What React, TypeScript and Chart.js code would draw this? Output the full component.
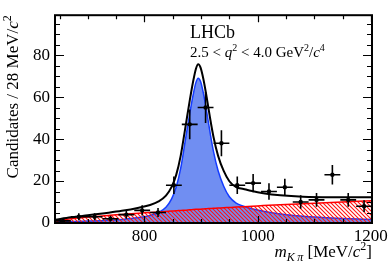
import { useEffect, useRef } from "react";
import { Chart, registerables } from "chart.js";

Chart.register(...registerables);

// ---- data ----
const BIN_CENTERS = [656, 684, 712, 740, 768, 796, 824, 852, 880, 908, 936, 964, 992, 1020, 1048, 1076, 1104, 1132, 1160, 1188];
const COUNTS = [1, 3, 3, 2, 4, 6, 5, 18, 47, 55, 38, 18, 19, 15, 17, 10, 11, 23, 11, 8];
const ERRORS = [1, 1.7, 1.7, 1.4, 2, 2.4, 2.2, 4.2, 7.1, 7.4, 6.2, 4.2, 4.4, 3.9, 4.1, 3.2, 3.3, 4.6, 3.3, 2.8];
const BIN_HALF_WIDTH = 14;

const CURVE_X = [642, 670, 700, 730, 760, 790, 810, 825, 838, 848, 856, 864, 872, 880, 886, 891, 895, 899, 904, 910, 916, 922, 930, 940, 950, 962, 975, 990, 1010, 1040, 1080, 1130, 1202];
const SIGNAL = [0.5, 0.7, 0.9, 1.2, 1.7, 2.6, 3.6, 5, 7.5, 11.5, 17, 26, 39, 52, 61, 67, 69, 67.5, 62, 53, 43, 34, 25, 17.5, 12.5, 9.5, 8, 6.8, 5.6, 4.3, 3.2, 2.4, 1.7];
const BACKGROUND = [1.0, 2.0, 2.8, 3.5, 4.1, 4.7, 5.0, 5.3, 5.5, 5.7, 5.8, 6.0, 6.1, 6.3, 6.4, 6.5, 6.6, 6.6, 6.7, 6.8, 6.9, 7.0, 7.1, 7.3, 7.4, 7.6, 7.8, 8.0, 8.3, 8.7, 9.2, 9.8, 10.6];
const TOTAL = [1.5, 2.7, 3.7, 4.7, 5.8, 7.3, 8.6, 10.3, 13, 17.2, 22.8, 32, 45, 58.3, 67.4, 73.5, 75.6, 74.1, 68.7, 59.8, 49.9, 41, 32.1, 24.8, 19.9, 17.1, 16.2, 15.2, 14.2, 13.2, 12.5, 12.3, 12.3];

const X_MIN = 642;
const X_MAX = 1202;
const Y_MIN = 0;
const Y_MAX = 99;
const X_TICKS = [800, 1000, 1200];
const X_MINOR_TICKS = [650, 700, 750, 850, 900, 950, 1050, 1100, 1150];
const Y_TICKS = [0, 20, 40, 60, 80];
const Y_MINOR_TICKS = [5, 10, 15, 25, 30, 35, 45, 50, 55, 65, 70, 75, 85, 90, 95];

const FAMILY = '"Liberation Serif", "Times New Roman", serif';

type Seg = { t: string; it?: boolean; sup?: boolean; sub?: boolean };

function drawRich(ctx: CanvasRenderingContext2D, segs: Seg[], x: number, y: number, size: number, align: "left" | "right") {
  const font = (s: Seg) => `${s.it ? "italic " : ""}${s.sup || s.sub ? Math.round(size * 0.68) : size}px ${FAMILY}`;
  let total = 0;
  for (const s of segs) {
    ctx.font = font(s);
    total += ctx.measureText(s.t).width;
  }
  let cx = align === "right" ? x - total : x;
  ctx.textAlign = "left";
  ctx.textBaseline = "alphabetic";
  for (const s of segs) {
    ctx.font = font(s);
    const dy = s.sup ? -size * 0.4 : s.sub ? size * 0.22 : 0;
    ctx.fillText(s.t, cx, y + dy);
    cx += ctx.measureText(s.t).width;
  }
}

function makeHatch(): CanvasPattern | string {
  const c = document.createElement("canvas");
  c.width = 4;
  c.height = 4;
  const g = c.getContext("2d");
  if (!g) return "rgba(255,0,0,0.4)";
  g.strokeStyle = "rgb(255,20,20)";
  g.lineWidth = 1.1;
  g.beginPath();
  g.moveTo(-1, -1);
  g.lineTo(5, 5);
  g.moveTo(-1, 3);
  g.lineTo(1, 5);
  g.moveTo(3, -1);
  g.lineTo(5, 1);
  g.stroke();
  const p = document.createElement("canvas").getContext("2d")!.createPattern(c, "repeat");
  return p || "rgba(255,0,0,0.4)";
}

const decorPlugin = {
  id: "decor",
  afterDatasetsDraw(chart: any) {
    const ctx: CanvasRenderingContext2D = chart.ctx;
    const xs = chart.scales.x;
    const ys = chart.scales.y;
    ctx.save();
    ctx.strokeStyle = "#000";
    ctx.lineWidth = 1.6;
    ctx.beginPath();
    BIN_CENTERS.forEach((c, i) => {
      const px = xs.getPixelForValue(c);
      const py = ys.getPixelForValue(COUNTS[i]);
      const x0 = xs.getPixelForValue(c - BIN_HALF_WIDTH);
      const x1 = xs.getPixelForValue(c + BIN_HALF_WIDTH);
      const y0 = ys.getPixelForValue(Math.max(0, COUNTS[i] - ERRORS[i]));
      const y1 = ys.getPixelForValue(COUNTS[i] + ERRORS[i]);
      ctx.moveTo(x0, py);
      ctx.lineTo(x1, py);
      ctx.moveTo(px, y0);
      ctx.lineTo(px, y1);
    });
    ctx.stroke();
    ctx.restore();
  },
  afterDraw(chart: any) {
    const ctx: CanvasRenderingContext2D = chart.ctx;
    const a = chart.chartArea;
    const xs = chart.scales.x;
    const ys = chart.scales.y;
    ctx.save();
    ctx.strokeStyle = "#000";
    ctx.lineWidth = 1.2;
    ctx.beginPath();
    const xTick = (v: number, len: number) => {
      const p = Math.round(xs.getPixelForValue(v)) + 0.5;
      ctx.moveTo(p, a.bottom);
      ctx.lineTo(p, a.bottom - len);
      ctx.moveTo(p, a.top);
      ctx.lineTo(p, a.top + len);
    };
    const yTick = (v: number, len: number) => {
      const p = Math.round(ys.getPixelForValue(v)) + 0.5;
      ctx.moveTo(a.left, p);
      ctx.lineTo(a.left + len, p);
      ctx.moveTo(a.right, p);
      ctx.lineTo(a.right - len, p);
    };
    X_TICKS.forEach((v) => xTick(v, 7));
    X_MINOR_TICKS.forEach((v) => xTick(v, 4));
    Y_TICKS.forEach((v) => yTick(v, 9));
    Y_MINOR_TICKS.forEach((v) => yTick(v, 5));
    ctx.stroke();
    ctx.lineWidth = 2;
    ctx.strokeRect(a.left, a.top, a.right - a.left, a.bottom - a.top);

    ctx.fillStyle = "#000";
    // x title
    drawRich(
      ctx,
      [
        { t: "m", it: true },
        { t: "K\u2009\u03C0", it: true, sub: true },
        { t: " [MeV/" },
        { t: "c", it: true },
        { t: "2", sup: true },
        { t: "]" },
      ],
      a.right,
      257,
      17,
      "right"
    );
    // y title
    ctx.save();
    ctx.translate(18, a.top);
    ctx.rotate(-Math.PI / 2);
    drawRich(
      ctx,
      [{ t: "Candidates / 28 MeV/" }, { t: "c", it: true }, { t: "2", sup: true }],
      0,
      0,
      17,
      "right"
    );
    ctx.restore();
    // annotations
    drawRich(ctx, [{ t: "LHCb" }], 190, 38, 18, "left");
    drawRich(
      ctx,
      [
        { t: "2.5 < " },
        { t: "q", it: true },
        { t: "2", sup: true },
        { t: " < 4.0 GeV" },
        { t: "2", sup: true },
        { t: "/" },
        { t: "c", it: true },
        { t: "4", sup: true },
      ],
      190,
      57,
      15,
      "left"
    );
    ctx.restore();
  },
};

export default function App() {
  const ref = useRef<HTMLCanvasElement | null>(null);
  useEffect(() => {
    if (!ref.current) return;
    const toXY = (ys: number[]) => CURVE_X.map((x, i) => ({ x, y: ys[i] }));
    const chart = new Chart(ref.current, {
      type: "line",
      data: {
        datasets: [
          {
            label: "signal",
            data: toXY(SIGNAL),
            borderColor: "rgb(20,60,255)",
            borderWidth: 1.5,
            backgroundColor: "rgb(112,142,242)",
            fill: "origin",
            pointRadius: 0,
            cubicInterpolationMode: "monotone",
            order: 5,
          },
          {
            label: "background",
            data: toXY(BACKGROUND),
            borderColor: "rgb(255,0,0)",
            borderWidth: 1.5,
            backgroundColor: makeHatch() as any,
            fill: "origin",
            pointRadius: 0,
            cubicInterpolationMode: "monotone",
            order: 4,
          },
          {
            label: "total",
            data: toXY(TOTAL),
            borderColor: "#000",
            borderWidth: 2,
            fill: false,
            pointRadius: 0,
            cubicInterpolationMode: "monotone",
            order: 2,
          },
          {
            type: "scatter",
            label: "data",
            data: BIN_CENTERS.map((x, i) => ({ x, y: COUNTS[i] })),
            pointRadius: 2.2,
            pointBackgroundColor: "#000",
            pointBorderWidth: 0,
            showLine: false,
            order: 1,
          } as any,
        ],
      },
      options: {
        animation: false,
        responsive: false,
        events: [],
        layout: { padding: { top: 13, right: 20, left: 0, bottom: 0 } },
        plugins: { legend: { display: false }, tooltip: { enabled: false }, title: { display: false } },
        scales: {
          x: {
            type: "linear",
            min: X_MIN,
            max: X_MAX,
            grid: { display: false, drawTicks: false },
            border: { display: false },
            afterBuildTicks: (s: any) => {
              s.ticks = X_TICKS.map((v) => ({ value: v }));
            },
            afterFit: (s: any) => {
              s.height = 43;
            },
            ticks: {
              color: "#000",
              font: { family: FAMILY, size: 17 },
              padding: 3,
              maxRotation: 0,
              autoSkip: false,
              callback: (v: any) => String(v),
            },
          },
          y: {
            type: "linear",
            min: Y_MIN,
            max: Y_MAX,
            grid: { display: false, drawTicks: false },
            border: { display: false },
            afterBuildTicks: (s: any) => {
              s.ticks = Y_TICKS.map((v) => ({ value: v }));
            },
            afterFit: (s: any) => {
              s.width = 55;
            },
            ticks: {
              color: "#000",
              font: { family: FAMILY, size: 17 },
              padding: 5,
              autoSkip: false,
              callback: (v: any) => String(v),
            },
          },
        },
      },
      plugins: [decorPlugin],
    });
    return () => chart.destroy();
  }, []);
  return (
    <div style={{ position: "fixed", left: 0, top: 0, width: 392, height: 266, background: "#fff" }}>
      <canvas ref={ref} width={392} height={266} style={{ display: "block" }} />
    </div>
  );
}
